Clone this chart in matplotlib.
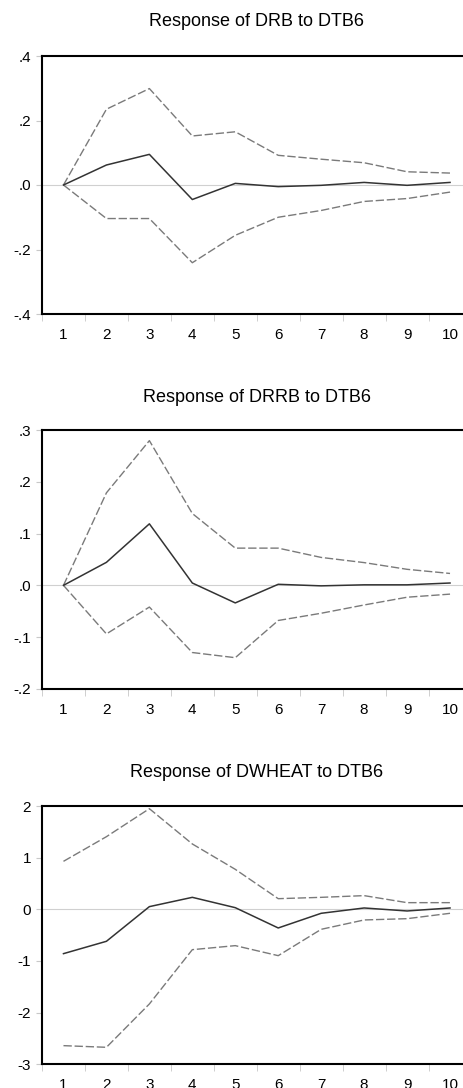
import numpy as np
import matplotlib.pyplot as plt

plt.rcParams['font.family'] = ['Liberation Sans', 'DejaVu Sans']

periods = np.arange(1, 11)

titles = ["Response of DRB to DTB6",
          "Response of DRRB to DTB6",
          "Response of DWHEAT to DTB6"]

drb = [0.0, 0.062, 0.095, -0.045, 0.005, -0.005, -0.001, 0.008, -0.001, 0.008]
drb_up = [0.0, 0.235, 0.299, 0.152, 0.165, 0.092, 0.080, 0.069, 0.041, 0.037]
drb_lo = [0.0, -0.104, -0.104, -0.241, -0.156, -0.100, -0.079, -0.051, -0.042, -0.022]

drrb = [0.0, 0.0445, 0.119, 0.0045, -0.034, 0.002, -0.001, 0.001, 0.001, 0.0045]
drrb_up = [0.0, 0.179, 0.280, 0.139, 0.072, 0.072, 0.054, 0.044, 0.031, 0.023]
drrb_lo = [0.0, -0.094, -0.042, -0.130, -0.140, -0.068, -0.054, -0.038, -0.023, -0.017]

dwheat = [-0.858, -0.619, 0.052, 0.232, 0.032, -0.361, -0.077, 0.026, -0.032, 0.026]
dwheat_up = [0.929, 1.406, 1.948, 1.265, 0.774, 0.206, 0.232, 0.265, 0.129, 0.129]
dwheat_lo = [-2.639, -2.671, -1.832, -0.781, -0.703, -0.897, -0.387, -0.206, -0.181, -0.077]

yticks = [[0.4, 0.2, 0.0, -0.2, -0.4],
          [0.3, 0.2, 0.1, 0.0, -0.1, -0.2],
          [2, 1, 0, -1, -2, -3]]
ytick_labels = [[".4", ".2", ".0", "-.2", "-.4"],
                [".3", ".2", ".1", ".0", "-.1", "-.2"],
                ["2", "1", "0", "-1", "-2", "-3"]]
ylims = [(-0.4, 0.4), (-0.2, 0.3), (-3, 2)]

series = [(drb, drb_up, drb_lo), (drrb, drrb_up, drrb_lo), (dwheat, dwheat_up, dwheat_lo)]

W, H = 464, 1088
fig = plt.figure(figsize=(W / 100, H / 100), dpi=100)

# axes boxes in pixels: (top, bottom); right edge runs past the figure like the original
boxes = [(56, 314), (430.3, 688.7), (806, 1064.3)]
left_px, right_px = 42, 471.5
title_y = [21.7, 397.7, 772.7]

for i in range(3):
    top, bot = boxes[i]
    ax = fig.add_axes([left_px / W, 1 - bot / H, (right_px - left_px) / W, (bot - top) / H])
    mid, up, lo = series[i]
    ax.axhline(0, color='#d0d0d0', lw=0.8, zorder=1)
    ax.plot(periods, up, color='#7a7a7a', lw=1.0, ls=(0, (6, 2)), zorder=2)
    ax.plot(periods, lo, color='#7a7a7a', lw=1.0, ls=(0, (6, 2)), zorder=2)
    ax.plot(periods, mid, color='#333333', lw=1.1, zorder=3)
    ax.set_xlim(0.5, 10.5)
    ax.set_ylim(*ylims[i])
    ax.set_yticks(yticks[i])
    ax.set_yticklabels(ytick_labels[i])
    ax.set_xticks(periods)
    ax.set_xticklabels([str(p) for p in periods])
    ax.set_xticks(np.arange(0.5, 11, 1), minor=True)
    ax.tick_params(axis='x', which='major', length=0, pad=10, labelsize=11)
    ax.tick_params(axis='x', which='minor', length=5, color='#c8c8c8', direction='out')
    ax.tick_params(axis='y', length=4, color='#c8c8c8', pad=4, labelsize=11)
    for s in ['left', 'top', 'bottom', 'right']:
        ax.spines[s].set_linewidth(1.5)
        ax.spines[s].set_color('black')
    fig.text((left_px + right_px) / 2 / W, 1 - title_y[i] / H, titles[i],
             ha='center', va='center', fontsize=13)

fig.savefig("out.png", dpi=100)
